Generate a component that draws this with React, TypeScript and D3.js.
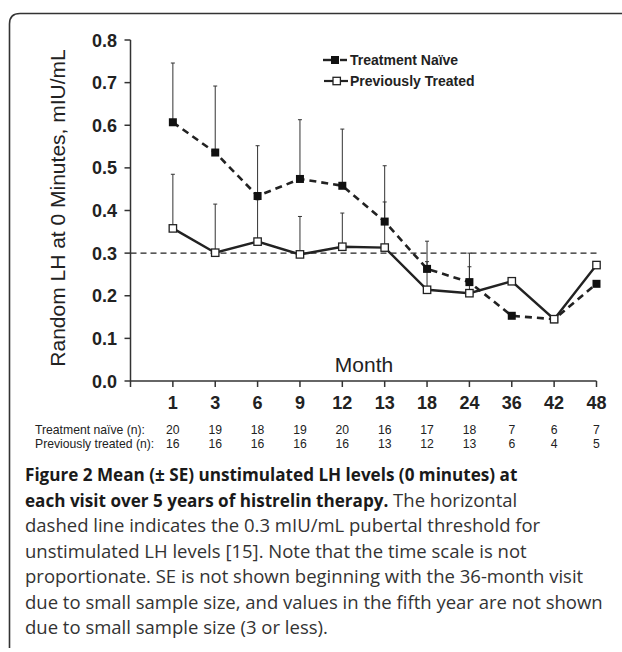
import React from 'react';
import { scaleLinear, scalePoint, line, range } from 'd3';

// months of visit (x categories)
const months = ['1', '3', '6', '9', '12', '13', '18', '24', '36', '42', '48'];

// mean random LH at 0 minutes, mIU/mL
const naiveMean = [0.607, 0.536, 0.434, 0.474, 0.458, 0.374, 0.263, 0.232, 0.153, 0.145, 0.228];
const prevMean = [0.358, 0.301, 0.327, 0.297, 0.315, 0.313, 0.214, 0.206, 0.234, 0.145, 0.272];

// standard errors (not shown from 36 months on)
const naiveSE = [0.139, 0.156, 0.118, 0.139, 0.133, 0.131, 0.065, 0.068, null, null, null];
const prevSE = [0.127, 0.114, 0.098, 0.089, 0.079, 0.107, 0.066, 0.062, null, null, null];

// sample sizes
const naiveN = [20, 19, 18, 19, 20, 16, 17, 18, 7, 6, 7];
const prevN = [16, 16, 16, 16, 16, 13, 12, 13, 6, 4, 5];

const yTicks = [0, 0.1, 0.2, 0.3, 0.4, 0.5, 0.6, 0.7, 0.8];
const threshold = 0.3;

const caption = [
  [{ b: true, t: 'Figure 2 Mean (± SE) unstimulated LH levels (0 minutes) at' }],
  [{ b: true, t: 'each visit over 5 years of histrelin therapy.' }, { b: false, t: ' The horizontal' }],
  [{ b: false, t: 'dashed line indicates the 0.3 mIU/mL pubertal threshold for' }],
  [{ b: false, t: 'unstimulated LH levels [15]. Note that the time scale is not' }],
  [{ b: false, t: 'proportionate. SE is not shown beginning with the 36-month visit' }],
  [{ b: false, t: 'due to small sample size, and values in the fifth year are not shown' }],
  [{ b: false, t: 'due to small sample size (3 or less).' }],
];

const AX = '"Liberation Sans", Arial, sans-serif';
const CAP = '"Open Sans", "Noto Sans", sans-serif';

export default function App() {
  const x0 = 130.5;
  const x1 = 596.5;
  const step = (x1 - x0) / months.length;

  const x = scalePoint<string>().domain(months).range([x0 + step, x1]);
  const y = scaleLinear().domain([0, 0.8]).range([381, 40]);

  const mkLine = line<number>()
    .x((d, i) => x(months[i]) as number)
    .y(d => y(d));

  const ink = '#222';

  return (
    <svg width={622} height={652} style={{ position: 'absolute', left: 0, top: 0 }}>
      {/* frame */}
      <path d="M 622 13.5 H 20 Q 9.5 13.5 9.5 24 V 648" fill="none" stroke="#333" strokeWidth={1.6} />

      {/* threshold */}
      <line x1={x0} x2={x1} y1={y(threshold)} y2={y(threshold)} stroke={ink} strokeWidth={1.2} strokeDasharray="6,4" />

      {/* error bars */}
      {[{ m: naiveMean, se: naiveSE }, { m: prevMean, se: prevSE }].map((s, k) =>
        s.m.map((v, i) => {
          const se = s.se[i];
          if (se == null) return null;
          const cx = x(months[i]) as number;
          return (
            <g key={`e${k}-${i}`} stroke="#333" strokeWidth={1}>
              <line x1={cx} x2={cx} y1={y(v)} y2={y(v + se)} />
              <line x1={cx - 2} x2={cx + 2} y1={y(v + se)} y2={y(v + se)} />
            </g>
          );
        })
      )}

      {/* axes */}
      <g stroke="#333" strokeWidth={1.5}>
        <line x1={x0} x2={x0} y1={y(0.8)} y2={y(0)} />
        <line x1={x0} x2={x1} y1={y(0)} y2={y(0)} />
        {yTicks.map(t => (
          <line key={t} x1={x0 - 6} x2={x0} y1={y(t)} y2={y(t)} />
        ))}
        {range(months.length + 1).map(i => (
          <line key={i} x1={x0 + i * step} x2={x0 + i * step} y1={y(0)} y2={y(0) + 6} />
        ))}
      </g>
      <g fontFamily={AX} fontWeight="bold" fontSize={18} fill={ink}>
        {yTicks.map(t => (
          <text key={t} x={117} y={y(t) + 6.5} textAnchor="end">{t.toFixed(1)}</text>
        ))}
        {months.map(m => (
          <text key={m} x={x(m)} y={409} textAnchor="middle">{m}</text>
        ))}
      </g>
      <text x={364} y={372} fontFamily={AX} fontSize={21} textAnchor="middle" fill={ink}>Month</text>
      <text transform="translate(65,208) rotate(-90)" fontFamily={AX} fontSize={21} textAnchor="middle" fill={ink}>
        Random LH at 0 Minutes, mIU/mL
      </text>

      {/* series lines */}
      <path d={mkLine(naiveMean) || ''} fill="none" stroke={ink} strokeWidth={2.6} strokeDasharray="7,5" />
      <path d={mkLine(prevMean) || ''} fill="none" stroke={ink} strokeWidth={2.4} />

      {/* markers */}
      {naiveMean.map((v, i) => (
        <rect key={`n${i}`} x={(x(months[i]) as number) - 4} y={y(v) - 4} width={8} height={8} fill="#111" />
      ))}
      {prevMean.map((v, i) => (
        <rect key={`p${i}`} x={(x(months[i]) as number) - 3.7} y={y(v) - 3.7} width={7.4} height={7.4} fill="#fff" stroke={ink} strokeWidth={1.3} />
      ))}

      {/* legend */}
      <g fontFamily={AX} fontWeight="bold" fontSize={14} fill={ink}>
        <line x1={323} x2={331} y1={60} y2={60} stroke={ink} strokeWidth={2.4} />
        <line x1={340} x2={347} y1={60} y2={60} stroke={ink} strokeWidth={2.4} />
        <rect x={331} y={56} width={8} height={8} fill="#111" />
        <text x={350} y={65}>Treatment Naïve</text>
        <line x1={324} x2={348} y1={81} y2={81} stroke={ink} strokeWidth={2.2} />
        <rect x={333} y={77.3} width={7.4} height={7.4} fill="#fff" stroke={ink} strokeWidth={1.3} />
        <text x={350} y={86}>Previously Treated</text>
      </g>

      {/* n table */}
      <g fontFamily={AX} fontSize={12.2} fill={ink}>
        <text x={35} y={433.5}>Treatment naïve (n):</text>
        <text x={35} y={447.5}>Previously treated (n):</text>
        {naiveN.map((n, i) => (
          <text key={`nn${i}`} x={x(months[i])} y={433.5} textAnchor="middle">{n}</text>
        ))}
        {prevN.map((n, i) => (
          <text key={`pn${i}`} x={x(months[i])} y={447.5} textAnchor="middle">{n}</text>
        ))}
      </g>

      {/* caption */}
      <g fontFamily={CAP}>
        {caption.map((ln, i) => (
          <text key={i} x={25} y={481 + i * 25.5}>
            {ln.map((s, j) => (
              <tspan
                key={j}
                fontWeight={s.b ? 'bold' : 'normal'}
                fontSize={s.b ? 17.1 : 18.5}
                fill={s.b ? '#1a1a1a' : '#333'}
              >
                {s.t}
              </tspan>
            ))}
          </text>
        ))}
      </g>
    </svg>
  );
}
